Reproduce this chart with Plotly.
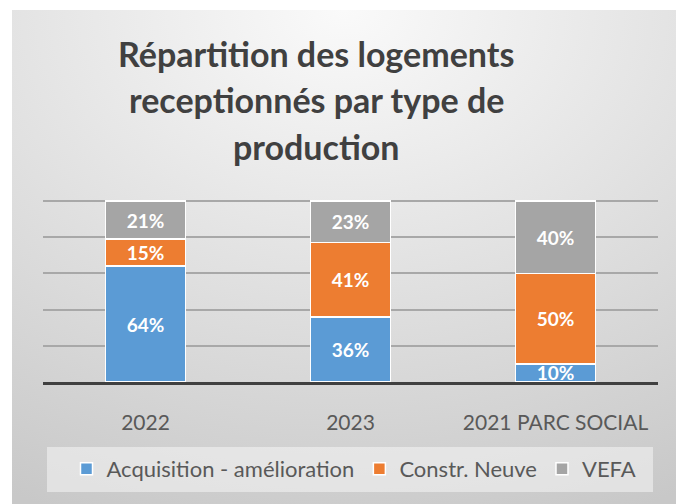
import base64
import plotly.graph_objects as go

categories = ["2022", "2023", "2021 PARC SOCIAL"]
acquisition = [64, 36, 10]
constr_neuve = [15, 41, 50]
vefa = [21, 23, 40]
series_names = ["Acquisition - amélioration", "Constr. Neuve", "VEFA"]
colors = ["#5b9bd5", "#ed7d31", "#a5a5a5"]
title_lines = ["Répartition des logements", "receptionnés par type de", "production"]

W, H = 676, 504
L, R, T, B = 43, 658, 200, 382
pw, ph = R - L, B - T


def px_x(x):
    return (x - L) / pw


def px_y(y):
    return (B - y) / ph


svg = (
    '<svg xmlns="http://www.w3.org/2000/svg" width="664" height="494">'
    '<defs><radialGradient id="g" cx="50%" cy="0%" r="110%">'
    '<stop offset="0%" stop-color="#fafafa"/>'
    '<stop offset="100%" stop-color="#c8c8c8"/>'
    '</radialGradient></defs>'
    '<rect width="664" height="494" fill="url(#g)"/></svg>'
)
src = "data:image/svg+xml;base64," + base64.b64encode(svg.encode()).decode()

fig = go.Figure()
for name, vals, col in zip(series_names, [acquisition, constr_neuve, vefa], colors):
    fig.add_trace(go.Bar(
        x=categories, y=vals, name=name,
        marker=dict(color=col, line=dict(color="white", width=1.5)),
        texttemplate="%{y}%", textposition="inside", insidetextanchor="middle",
        textfont=dict(family="Lato", size=19, color="white", weight="bold"),
        hoverinfo="skip",
    ))

fig.update_layout(
    width=W, height=H,
    margin=dict(l=L, r=W - R, t=T, b=H - B),
    barmode="stack", bargap=0.61,
    paper_bgcolor="white", plot_bgcolor="rgba(0,0,0,0)",
    uniformtext=dict(minsize=19, mode="show"),
    showlegend=True,
    legend=dict(orientation="h", xanchor="center", x=px_x(354), yanchor="middle", y=px_y(469),
                font=dict(family="Lato", size=22, color="#595959"), bgcolor="rgba(0,0,0,0)",
                traceorder="normal", itemwidth=30),
    images=[dict(source=src, xref="paper", yref="paper", x=px_x(12), y=px_y(10),
                 sizex=px_x(676) - px_x(12), sizey=px_y(10) - px_y(504),
                 sizing="stretch", layer="below", xanchor="left", yanchor="top")],
    shapes=[dict(type="rect", xref="paper", yref="paper", x0=px_x(47), x1=px_x(653),
                 y0=px_y(447), y1=px_y(492), fillcolor="rgba(245,245,245,0.55)",
                 line=dict(width=0), layer="below")],
    font=dict(family="Lato"),
)

for line, yc in zip(title_lines, [53, 99, 146]):
    fig.add_annotation(text=line, xref="paper", yref="paper", x=px_x(316), y=px_y(yc),
                       xanchor="center", yanchor="middle", showarrow=False,
                       font=dict(family="Lato", size=34, color="#404040", weight="bold"))

fig.update_xaxes(showline=True, linecolor="#404040", linewidth=3, ticks="",
                 tickfont=dict(family="Lato", size=21, color="#595959"),
                 ticklabelstandoff=20)
fig.update_yaxes(range=[0, 100.6], tickvals=[20, 40, 60, 80, 100], showgrid=True,
                 gridcolor="#a8a8a8", gridwidth=1.5, showticklabels=False, zeroline=False)

fig.write_html("out.html", config={"displayModeBar": False},
               post_script="document.body.style.margin='0';")
